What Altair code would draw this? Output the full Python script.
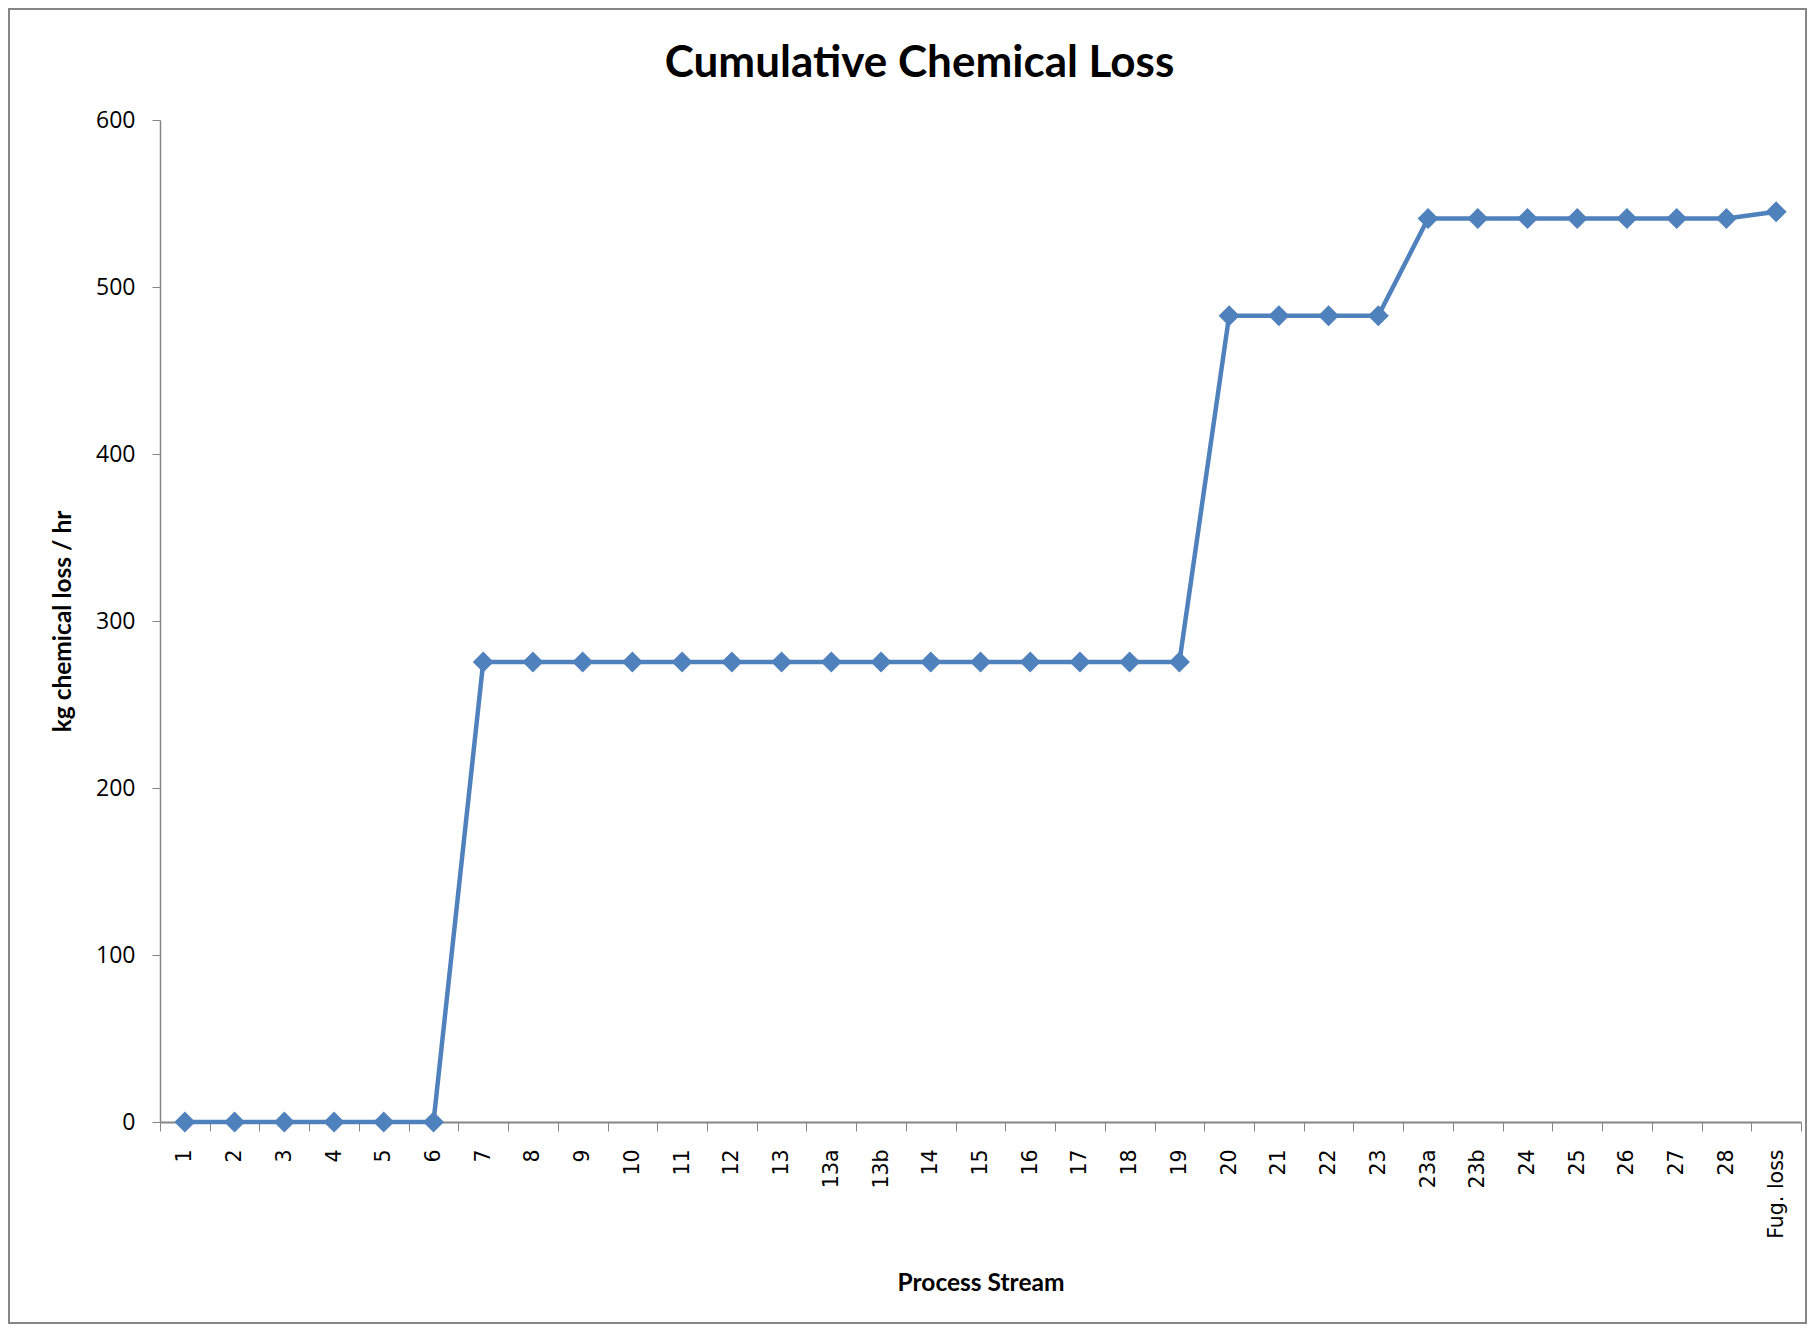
import altair as alt
import pandas as pd

title_text = ["Cumulative Chemical Loss"]
streams = ["1", "2", "3", "4", "5", "6", "7", "8", "9", "10", "11", "12", "13",
           "13a", "13b", "14", "15", "16", "17", "18", "19", "20", "21", "22", "23",
           "23a", "23b", "24", "25", "26", "27", "28", "Fug. loss"]
loss = [0, 0, 0, 0, 0, 0,
        275.5, 275.5, 275.5, 275.5, 275.5, 275.5, 275.5, 275.5, 275.5,
        275.5, 275.5, 275.5, 275.5, 275.5, 275.5,
        482.8, 482.8, 482.8, 482.8,
        541.0, 541.0, 541.0, 541.0, 541.0, 541.0, 541.0,
        545.0]
y_ticks = [0, 100, 200, 300, 400, 500, 600]

df = pd.DataFrame({"stream": streams, "loss": loss})

PW, PH = 1641, 1002
PAD = {"left": 152, "top": 112, "right": 6, "bottom": 202}
BLUE = "#4F81BD"
GRAY = "#868686"

x_enc = alt.X(
    "stream:N", sort=streams,
    scale=alt.Scale(type="band", paddingInner=0, paddingOuter=0),
    axis=alt.Axis(
        title="Process Stream", labelAngle=-90, labelFont="DejaVu Sans", labelFontSize=20.5,
        labelColor="black", labelPadding=18, tickBand="extent", tickSize=9,
        tickColor=GRAY, domainColor=GRAY, domainWidth=2, tickWidth=1, grid=False,
        titleFont="Lato", titleFontSize=24.5, titleFontWeight="bold", titleColor="black",
        titleX=PW / 2, titleY=168, titleBaseline="alphabetic", titleAlign="center",
        labelAlign="right", labelBaseline="middle",
    ),
)
y_enc = alt.Y(
    "loss:Q",
    scale=alt.Scale(domain=[0, 600], nice=False),
    axis=alt.Axis(
        title="kg chemical loss / hr", values=y_ticks, grid=False, tickSize=8,
        tickColor=GRAY, domainColor=GRAY, domainWidth=1.5, labelFont="Open Sans",
        labelFontSize=23, labelColor="black", labelPadding=17,
        titleFont="Lato", titleFontSize=24.5, titleFontWeight="bold", titleColor="black",
        titleX=-90, titleY=PH / 2, titleBaseline="alphabetic", titleAlign="center",
        titleAngle=270,
    ),
)

line = alt.Chart(df).mark_line(color=BLUE, strokeWidth=4.5).encode(x=x_enc, y=y_enc)
pts = alt.Chart(df).mark_point(shape="diamond", filled=True, size=440, color=BLUE,
                               opacity=1).encode(x=x_enc, y=y_enc)

frame = alt.Chart(pd.DataFrame({"a": [0]})).mark_rect(
    fillOpacity=0, stroke=GRAY, strokeWidth=2
).encode(
    x=alt.value(-151), x2=alt.value(PW + PAD["right"] - 1),
    y=alt.value(-111), y2=alt.value(PH + PAD["bottom"] - 1),
)

title = alt.Chart(pd.DataFrame({"t": title_text})).mark_text(
    font="Lato", fontSize=44, fontWeight="bold", color="black",
    align="center", baseline="alphabetic"
).encode(text="t:N", x=alt.value(PW / 2 - 61), y=alt.value(-43))

chart = alt.layer(frame, line, pts, title).properties(
    width=PW, height=PH,
    autosize=alt.AutoSizeParams(type="none"),
    padding=PAD,
    background="white",
).configure_view(strokeWidth=0, stroke="transparent")

chart.save("out.html", embed_options={"renderer": "svg", "actions": False})
